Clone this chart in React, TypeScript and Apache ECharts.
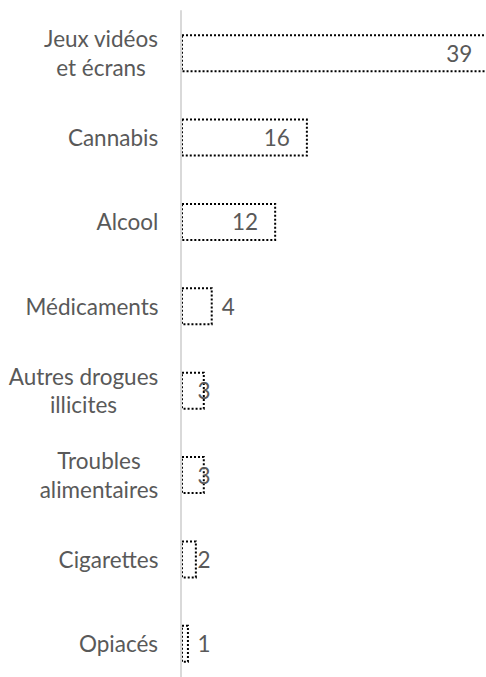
import React, { useEffect, useRef } from "react";
import * as echarts from "echarts";

const categories = [
  "Jeux vidéos\net écrans",
  "Cannabis",
  "Alcool",
  "Médicaments",
  "Autres drogues\nillicites",
  "Troubles\nalimentaires",
  "Cigarettes",
  "Opiacés",
];
const values = [39, 16, 12, 4, 3, 3, 2, 1];

const FONT = "Lato";
const FS = 22.5;
const TEXT = "#595959";

function measure(t: string): number {
  const c = document.createElement("canvas").getContext("2d");
  if (!c) return t.length * FS * 0.5;
  c.font = `${FS}px ${FONT}`;
  return c.measureText(t).width;
}

export default function App() {
  const ref = useRef<HTMLDivElement>(null);
  useEffect(() => {
    if (!ref.current) return;
    const chart = echarts.init(ref.current, null, { renderer: "svg" });
    const rich: Record<string, any> = {};
    categories.forEach((c, i) => {
      const w = Math.max(...c.split("\n").map(measure));
      rich["c" + i] = {
        width: Math.ceil(w) + 1,
        align: "center",
        fontFamily: FONT,
        fontSize: FS,
        color: TEXT,
        lineHeight: 28.5,
      };
    });
    const data = values.map((v) => {
      let label: any;
      if (v >= 10) label = { position: "insideRight", distance: 18 };
      else if (v >= 4) label = { position: "right", distance: 9 };
      else label = { position: [16.5, "50%"], align: "left", verticalAlign: "middle" };
      return { value: v, label };
    });
    chart.setOption({
      animation: false,
      grid: {
        left: 181,
        top: 11,
        width: 40 * 7.93,
        height: 675,
        containLabel: false,
        outerBoundsMode: "none",
      },
      xAxis: {
        type: "value",
        min: 0,
        max: 40,
        show: false,
      },
      yAxis: {
        type: "category",
        data: categories,
        inverse: true,
        z: 5,
        axisLine: { show: true, lineStyle: { color: "#d9d9d9", width: 2 } },
        axisTick: { show: false },
        axisLabel: {
          margin: 22,
          align: "right",
          formatter: (v: string, i: number) => `{c${i}|${v}}`,
          rich,
        },
      },
      series: [
        {
          type: "bar",
          data,
          barWidth: 38,
          itemStyle: {
            color: "rgba(255,255,255,0)",
            borderColor: "#000",
            borderWidth: 2,
            borderType: [2, 2],
          },
          label: {
            show: true,
            fontFamily: FONT,
            fontSize: FS,
            color: TEXT,
          },
        },
      ],
    });
    return () => chart.dispose();
  }, []);
  return (
    <div
      ref={ref}
      style={{ position: "fixed", left: 0, top: 0, width: 486, height: 677, background: "#fff" }}
    />
  );
}
